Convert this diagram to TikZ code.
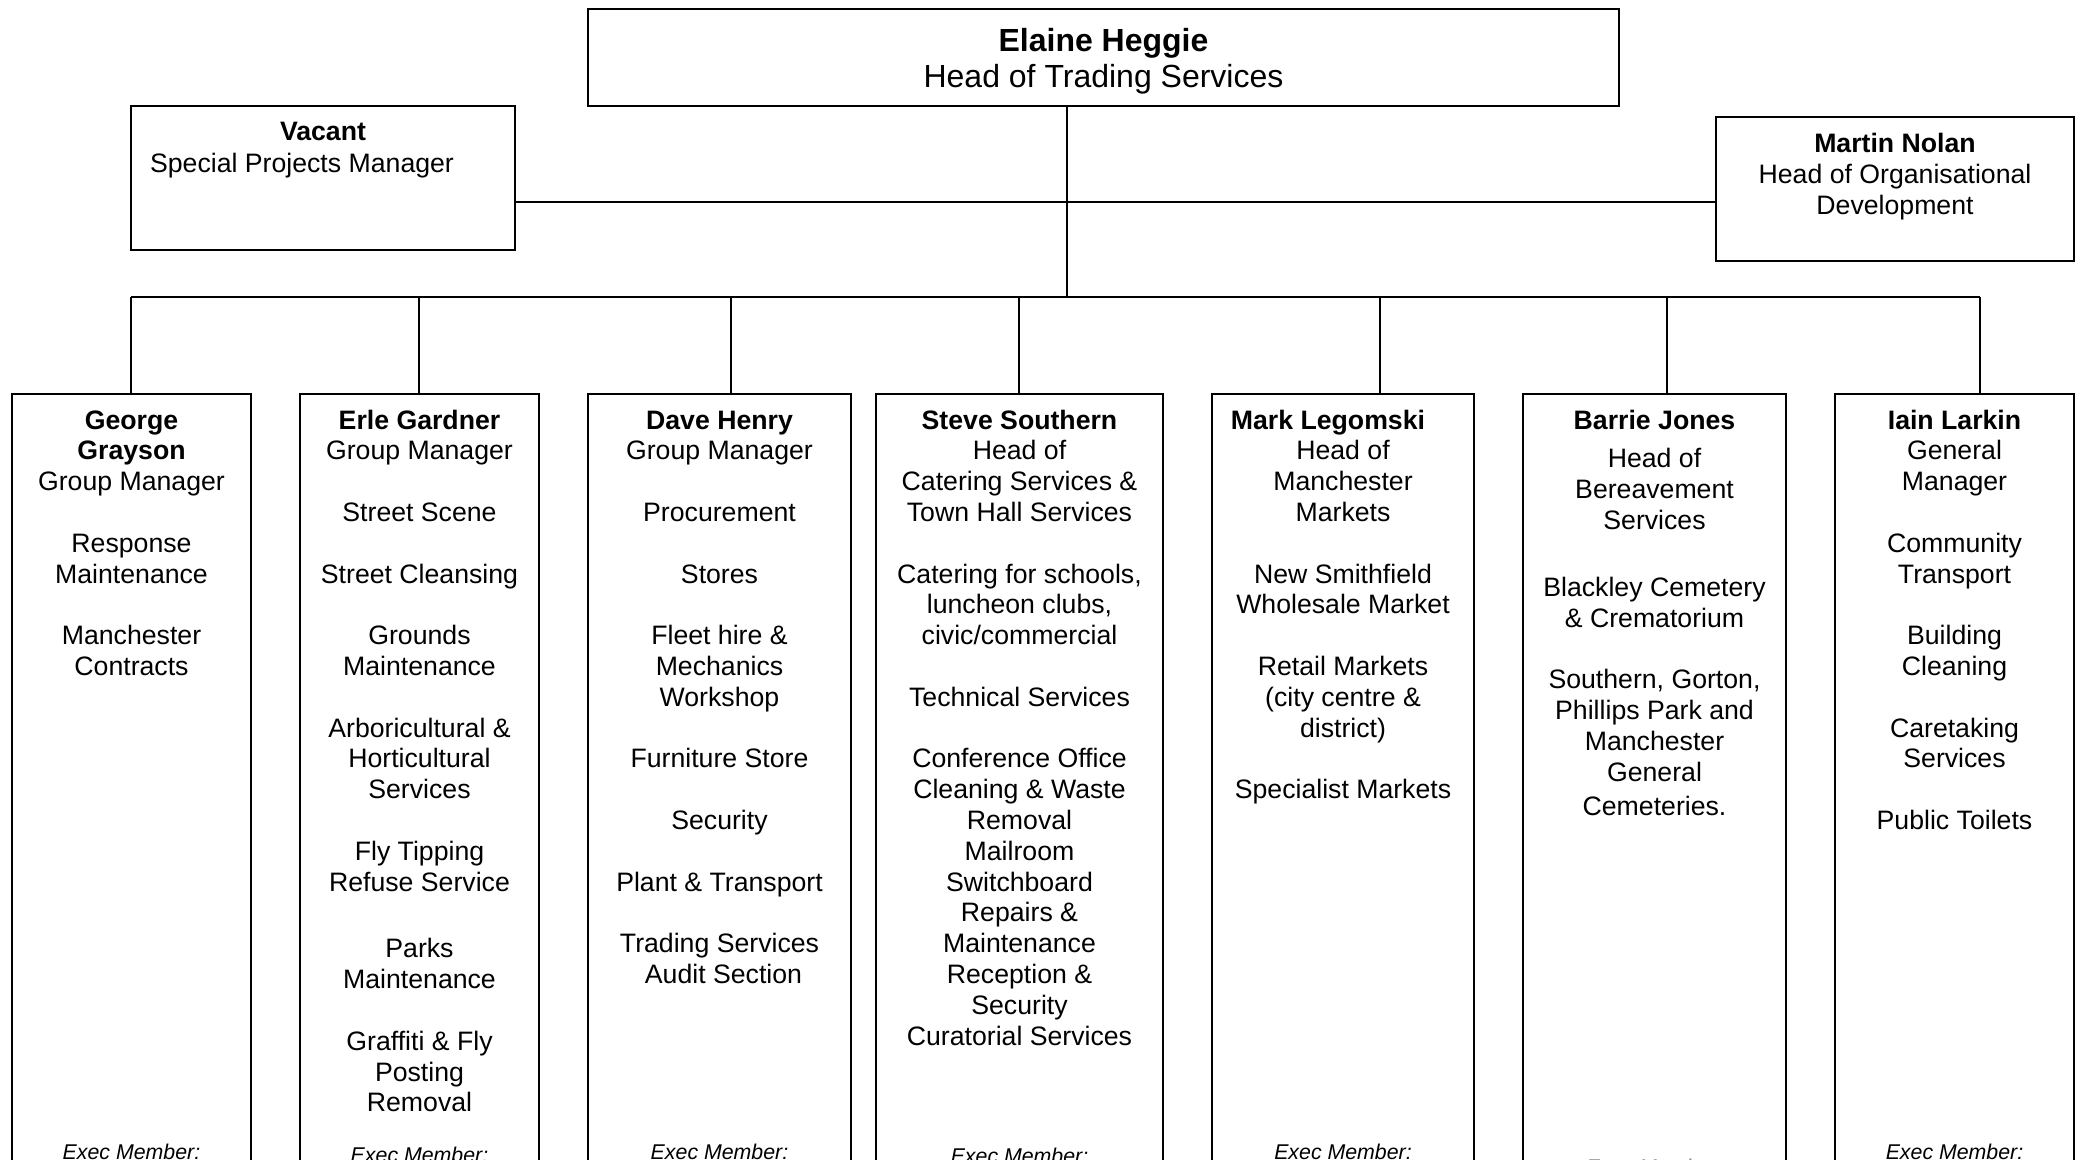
\documentclass[tikz,border=0pt]{standalone}
\usepackage{fontspec}
\setmainfont{Liberation Sans}
\newdimen\pxu \pxu=0.75pt
\newcommand\fst{\rule{0pt}{16pt}}
\newcommand\hst{\rule{0pt}{19pt}}
\newcommand\bl{23.1pt}
\tikzset{
  box/.style={draw, line width=1.1pt, rectangle, inner sep=0pt},
  conn/.style={line width=0.9pt},
  txt/.style={anchor=north, align=center, inner sep=0pt, font=\fontsize{20}{23.1}\selectfont},
  exec/.style={anchor=base, inner sep=0pt, font=\fontsize{16}{19}\selectfont\itshape},
  col/.style={box, minimum height=806\pxu},
}
\begin{document}
\begin{tikzpicture}[x=0.75pt,y=-0.75pt]
\useasboundingbox (0,0) rectangle (2081,1160);
\clip (0,0) rectangle (2081,1160);

% top boxes
\node[box, minimum width=1031\pxu, minimum height=97\pxu] (head) at (1103.5,57.5) {};
\node[txt, font=\fontsize{24}{27}\selectfont] (headt) at (1103.5,25.7) {\hst\textbf{Elaine Heggie}\\Head of Trading Services};
\node[box, minimum width=384\pxu, minimum height=144\pxu] (vac) at (323,178) {};
\node[txt, font=\fontsize{20}{24}\selectfont] (vact) at (323,118.7) {\fst\textbf{Vacant}\\Special Projects Manager\hspace*{31.5pt}};
\node[box, minimum width=358\pxu, minimum height=144\pxu] (mn) at (1895,189) {};
\node[txt] (mnt) at (1895,131) {\fst\textbf{Martin Nolan}\\Head of Organisational\\Development};

% column boxes
\node[col, minimum width=239\pxu] (b1) at (131.5,797) {};
\node[col, minimum width=239\pxu] (b2) at (419.5,797) {};
\node[col, minimum width=263\pxu] (b3) at (719.5,797) {};
\node[col, minimum width=287\pxu] (b4) at (1019.5,797) {};
\node[col, minimum width=262\pxu] (b5) at (1343,797) {};
\node[col, minimum width=263\pxu] (b6) at (1654.5,797) {};
\node[col, minimum width=239\pxu] (b7) at (1954.5,797) {};

% column texts
\node[txt] (t1) at (131.5,407.5) {\fst\textbf{George}\\\textbf{Grayson}\\Group Manager\\[\bl]
Response\\Maintenance\\[\bl]Manchester\\Contracts};
\node[txt] (t2) at (419.5,407.5) {\fst\textbf{Erle Gardner}\\Group Manager\\[\bl]
Street Scene\\[\bl]Street Cleansing\\[\bl]Grounds\\Maintenance\\[\bl]
Arboricultural \&\\Horticultural\\Services\\[\bl]Fly Tipping\\Refuse Service\\[27pt]
Parks\\Maintenance\\[\bl]Graffiti \& Fly\\Posting\\Removal};
\node[txt] (t3) at (719.5,407.5) {\fst\textbf{Dave Henry}\\Group Manager\\[\bl]
Procurement\\[\bl]Stores\\[\bl]Fleet hire \&\\Mechanics\\Workshop\\[\bl]
Furniture Store\\[\bl]Security\\[\bl]Plant \& Transport\\[\bl]
Trading Services\\\hspace*{6pt}Audit Section};
\node[txt] (t4) at (1019.5,407.5) {\fst\textbf{Steve Southern}\\Head of\\Catering Services \&\\Town Hall Services\\[\bl]
Catering for schools,\\luncheon clubs,\\civic/commercial\\[\bl]
Technical Services\\[\bl]
Conference Office\\Cleaning \& Waste\\Removal\\Mailroom\\Switchboard\\Repairs \&\\Maintenance\\Reception \&\\Security\\Curatorial Services};
\node[txt] (t5) at (1343,407.5) {\fst\textbf{Mark Legomski}\hspace*{22.5pt}\\Head of\\Manchester\\Markets\\[\bl]
New Smithfield\\Wholesale Market\\[\bl]Retail Markets\\(city centre \&\\district)\\[\bl]
Specialist Markets};
\node[txt] (t6) at (1654.5,407.5) {\fst\textbf{Barrie Jones}\\[6pt]Head of\\Bereavement\\Services\\[27pt]
Blackley Cemetery\\\& Crematorium\\[\bl]Southern, Gorton,\\Phillips Park and\\Manchester\\General\\[3pt]Cemeteries.};
\node[txt] (t7) at (1954.5,407.5) {\fst\textbf{Iain Larkin}\\General\\Manager\\[\bl]
Community\\Transport\\[\bl]Building\\Cleaning\\[\bl]Caretaking\\Services\\[\bl]Public Toilets};

% exec member labels
\node[exec] (e1) at (131.5,1159) {Exec Member:};
\node[exec] (e2) at (419.5,1162) {Exec Member:};
\node[exec] (e3) at (719.5,1159) {Exec Member:};
\node[exec] (e4) at (1019.5,1163) {Exec Member:};
\node[exec] (e5) at (1343,1159) {Exec Member:};
\node[exec, text=gray] (e6) at (1654.5,1174) {Exec Member:};
\node[exec] (e7) at (1954.5,1159) {Exec Member:};

% connectors
\coordinate (hx) at (1067,297);
\coordinate (mid) at (1067,202);
\coordinate (d1) at (131,297);
\coordinate (d2) at (419,297);
\coordinate (d3) at (731,297);
\coordinate (d4) at (1019,297);
\coordinate (d5) at (1380,297);
\coordinate (d6) at (1667,297);
\coordinate (d7) at (1980,297);
\draw[conn] (head.south -| hx) -- (hx);
\draw[conn] (vac.east |- mid) -- (mn.west |- mid);
\draw[conn] (d1) -- (d7);
\foreach \i in {1,...,7} {\draw[conn] (d\i) -- (b\i.north -| d\i);}
\end{tikzpicture}
\end{document}
